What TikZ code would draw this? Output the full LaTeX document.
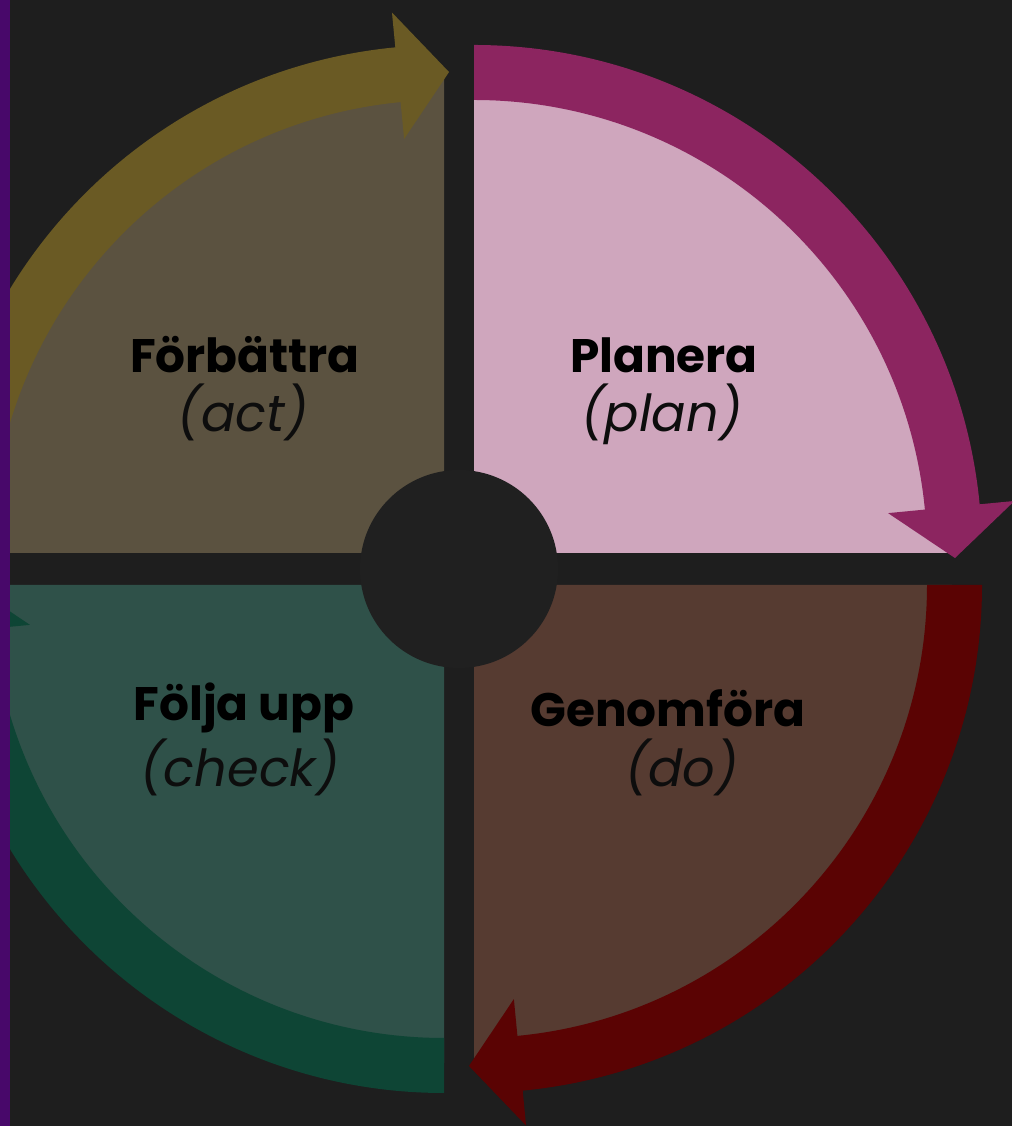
\documentclass[tikz,border=0pt]{standalone}
\usepackage{fontspec}
\setmainfont{Poppins}
\definecolor{bg}{HTML}{1E1E1E}
\definecolor{holecol}{HTML}{202020}
\definecolor{strip}{HTML}{48086A}
\definecolor{actfill}{HTML}{5B5240}
\definecolor{actband}{HTML}{6A5A24}
\definecolor{planfill}{HTML}{CFA6BD}
\definecolor{planband}{HTML}{8C2560}
\definecolor{checkfill}{HTML}{2F5149}
\definecolor{checkband}{HTML}{0E4535}
\definecolor{dofill}{HTML}{563B31}
\definecolor{doband}{HTML}{5A0303}
\newcommand\pdcaquad[4]{%
  \begin{scope}[shift={#1}]
    \fill[#2] (0,0) -- (#4:478) arc[start angle=#4, delta angle=-90, radius=478] -- cycle;
    \fill[#3] (#4:508) arc[start angle=#4, delta angle=-84.5, radius=508]
      -- ({#4-84.5}:543) -- ({#4-90.6}:481) -- ({#4-84.5}:416) -- ({#4-84.5}:453)
      arc[start angle=#4-84.5, delta angle=84.5, radius=453] -- cycle;
  \end{scope}}
\begin{document}
\begin{tikzpicture}[x=1pt,y=1pt,
  title/.style={font=\fontsize{47}{50}\selectfont\bfseries, text=black, inner sep=0pt},
  sub/.style={font=\fontsize{51}{54}\selectfont\itshape, text=black!95, inner sep=0pt}]
  \useasboundingbox (0,0) rectangle (1012,1126);
  \clip (0,0) rectangle (1012,1126);
  \fill[bg] (0,0) rectangle (1012,1126);
  % quadrants
  \pdcaquad{(474,573)}{planfill}{planband}{90}
  \pdcaquad{(474,541)}{dofill}{doband}{0}
  \pdcaquad{(444,541)}{checkfill}{checkband}{-90}
  \pdcaquad{(444,573)}{actfill}{actband}{180}
  % centre hole
  \fill[holecol] (459,557) circle[radius=99];
  % texts
  \node[title] (actT) at (245,771) {Förbättra};
  \node[sub]   (actS) at (243,714) {(act)};
  \node[title] (planT) at (664,771) {Planera};
  \node[sub]   (planS) at (662,712) {(plan)};
  \node[title] (chkT) at (244,418) {Följa upp};
  \node[sub]   (chkS) at (240,359) {(check)};
  \node[title] (doT) at (668,418) {Genomföra};
  \node[sub]   (doS) at (682,359) {(do)};
  % left strip
  \fill[strip] (0,0) rectangle (10,1126);
\end{tikzpicture}
\end{document}
